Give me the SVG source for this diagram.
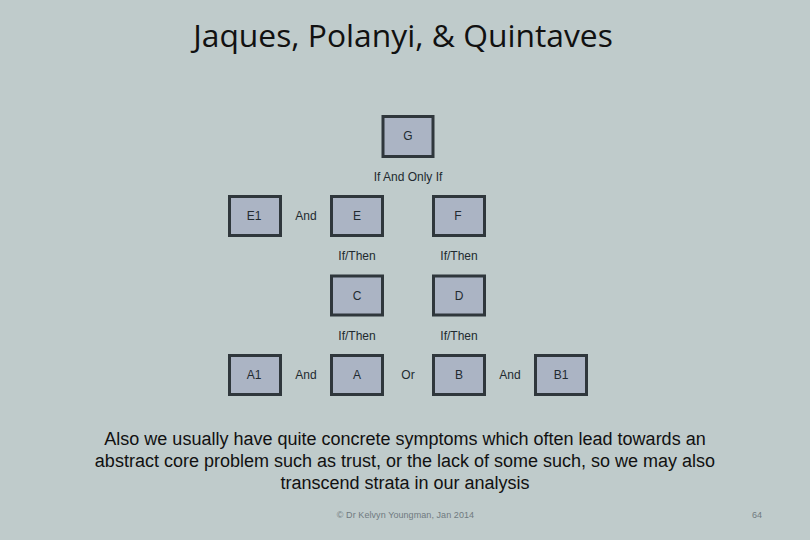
<svg xmlns="http://www.w3.org/2000/svg" width="810" height="540" viewBox="0 0 810 540">
<style>
text{font-family:"Liberation Sans",Arial,sans-serif;text-anchor:middle;fill:#222a30}
.b{fill:#abb4c4;stroke:#2f373c;stroke-width:3}
.l{font-size:12px}
.s{font-size:18px;fill:#111}
.f{font-size:9px;fill:#6f7a7f;letter-spacing:.07px}
.t{font-family:"Open Sans","Noto Sans",sans-serif;font-size:31.800px;fill:#111}
</style>
<rect width="810" height="540" fill="#bfcbcb"/>
<text class="t" x="403" y="47">Jaques, Polanyi, &amp; Quintaves</text>
<g id="connectors"></g>
<g id="G"><rect class="b" x="383" y="116.500" width="50" height="40"/><text class="l" x="408" y="140">G</text></g>
<g id="E1"><rect class="b" x="229.500" y="196.500" width="51" height="39"/><text class="l" x="254" y="220">E1</text></g>
<g id="E"><rect class="b" x="331.500" y="196.500" width="51" height="39"/><text class="l" x="357" y="220">E</text></g>
<g id="F"><rect class="b" x="433.500" y="196.500" width="51" height="39"/><text class="l" x="458" y="220">F</text></g>
<g id="C"><rect class="b" x="331.500" y="276" width="51" height="39"/><text class="l" x="357" y="300">C</text></g>
<g id="D"><rect class="b" x="433.500" y="276" width="51" height="39"/><text class="l" x="459" y="300">D</text></g>
<g id="A1"><rect class="b" x="229.500" y="355.500" width="51" height="39"/><text class="l" x="254" y="379">A1</text></g>
<g id="A"><rect class="b" x="331.500" y="355.500" width="51" height="39"/><text class="l" x="357" y="379">A</text></g>
<g id="B"><rect class="b" x="433.500" y="355.500" width="51" height="39"/><text class="l" x="459" y="379">B</text></g>
<g id="B1"><rect class="b" x="535.500" y="355.500" width="51" height="39"/><text class="l" x="561" y="379">B1</text></g>
<text class="l" x="408" y="181">If And Only If</text>
<text class="l" x="306" y="220">And</text>
<text class="l" x="357" y="260">If/Then</text>
<text class="l" x="459" y="260">If/Then</text>
<text class="l" x="357" y="340">If/Then</text>
<text class="l" x="459" y="340">If/Then</text>
<text class="l" x="306" y="379">And</text>
<text class="l" x="408" y="379">Or</text>
<text class="l" x="510" y="379">And</text>
<text class="s" x="405" y="445">Also we usually have quite concrete symptoms which often lead towards an</text>
<text class="s" x="405" y="467">abstract core problem such as trust, or the lack of some such, so we may also</text>
<text class="s" x="405" y="489">transcend strata in our analysis</text>
<text class="f" x="405.500" y="518">© Dr Kelvyn Youngman, Jan 2014</text>
<text class="f" x="757" y="518">64</text>
</svg>
